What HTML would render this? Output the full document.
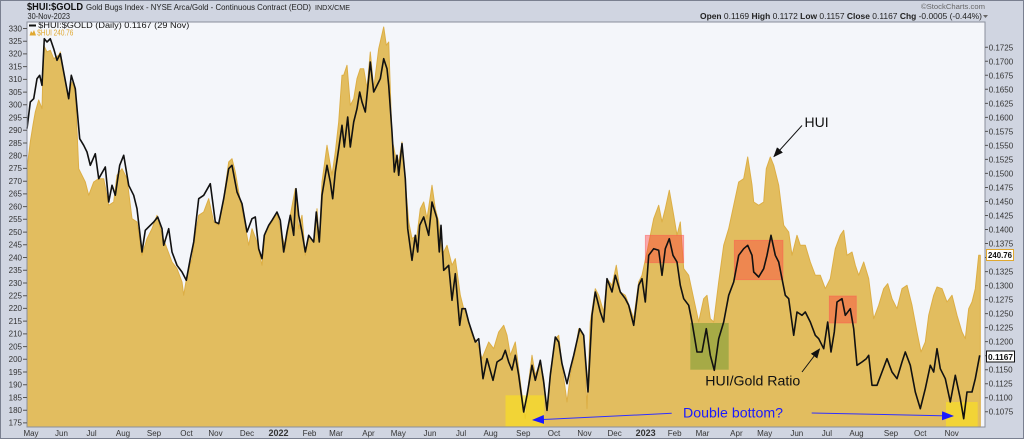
<!DOCTYPE html>
<html><head><meta charset="utf-8"><style>
html,body{margin:0;padding:0;background:#d0d5e1;}
svg{display:block;font-family:"Liberation Sans",Arial,sans-serif;}
</style></head><body>
<svg width="1024" height="439" viewBox="0 0 1024 439" xmlns="http://www.w3.org/2000/svg">
<defs>
<marker id="ab" markerWidth="10" markerHeight="8" refX="9" refY="4" orient="auto" markerUnits="userSpaceOnUse"><path d="M0,0 L10,4 L0,8 Z" fill="#111"/></marker>
<marker id="abl" markerWidth="12" markerHeight="9" refX="11" refY="4.5" orient="auto" markerUnits="userSpaceOnUse"><path d="M0,0 L12,4.5 L0,9 Z" fill="#1a1aff"/></marker>
</defs>
<rect x="0" y="0" width="1024" height="439" fill="#d0d5e1"/>
<rect x="0.5" y="0.5" width="1023" height="438" fill="none" stroke="#7a8090"/>
<!-- header -->
<text x="27" y="10" font-size="10" font-weight="bold" fill="#111" textLength="56" lengthAdjust="spacingAndGlyphs">$HUI:$GOLD</text>
<text x="86" y="10" font-size="8" fill="#222" textLength="225" lengthAdjust="spacingAndGlyphs">Gold Bugs Index - NYSE Arca/Gold - Continuous Contract (EOD)</text>
<text x="315" y="10" font-size="7.5" fill="#222" textLength="35" lengthAdjust="spacingAndGlyphs">INDX/CME</text>
<text x="27.5" y="19" font-size="8" fill="#222" textLength="42.5" lengthAdjust="spacingAndGlyphs">30-Nov-2023</text>
<text x="921" y="9" font-size="7" fill="#666" textLength="64" lengthAdjust="spacingAndGlyphs">©StockCharts.com</text>
<text x="700" y="19" font-size="8" fill="#222" textLength="282" lengthAdjust="spacingAndGlyphs"><tspan font-weight="bold">Open</tspan> 0.1169 <tspan font-weight="bold">High</tspan> 0.1172 <tspan font-weight="bold">Low</tspan> 0.1157 <tspan font-weight="bold">Close</tspan> 0.1167 <tspan font-weight="bold">Chg</tspan> -0.0005 (-0.44%)</text>
<path d="M983,15 L988,15 L985.5,18 Z" fill="#666"/>
<!-- plot -->
<rect x="27" y="22" width="958" height="405" fill="#f4f6fa"/>
<path fill="#e2bd5f" stroke="#dcae45" stroke-width="1" stroke-linejoin="round" d="M27,427 L27,168.7 L30.3,142 L33,125 L35.3,112 L38.7,100 L42,108.7 L43.7,45.3 L47,52 L50.3,50.3 L53.7,58.7 L58.7,55.3 L60.3,52 L63.7,72 L68.7,98.7 L72,82 L75.3,92 L78.7,168.7 L82,175.3 L85.3,182 L88.7,195.3 L93.7,182 L98.7,178.7 L103.7,178.7 L108.7,205.3 L113.7,202 L117,175.3 L122,168.7 L127,178.7 L132,218.7 L137,222 L142,255.3 L147,238.7 L152,228.7 L157,215.3 L162,235.3 L167,248.7 L172,262 L177,268.7 L182,282 L183.7,295.3 L187,275.3 L192,258.7 L195.3,235.3 L198.7,215.3 L203.7,212 L208.7,198.7 L213.7,222 L218.7,225.3 L223.7,198.7 L228.7,162 L232,158.7 L235.3,172 L238.7,192 L243.7,218.7 L248.7,245.3 L252,228.7 L257,242 L262,265.3 L265.3,232 L272,222 L277,213.7 L282,235 L285.3,248.7 L290.3,215.3 L295.3,188.7 L298.7,228.7 L302,215.3 L305.3,255.3 L308.7,235.3 L313.7,242 L317,208.7 L319.3,242 L322,182 L327,145.3 L332,175.3 L335.3,152 L338.7,122 L342,75.3 L343.7,75.3 L347,65.3 L350.3,105.3 L353.7,98.7 L357,78.7 L360.3,68.7 L363.7,68.7 L367,88.7 L370.3,52 L373.7,88.7 L378.7,48.7 L383.7,27 L386.3,45.3 L388.7,42 L392,138.7 L395.3,155.3 L398.7,162 L402,142 L405.3,182 L408.7,222 L412,238.7 L417,235.3 L420.3,208.7 L423.7,202 L427,218.7 L432,185.3 L435.3,208.7 L438.7,222 L442,255.3 L447,245.3 L452,265.3 L455.3,258.7 L460.3,295.3 L463.7,308.7 L467,315.3 L472,335.3 L477,342 L482,358.7 L488.7,342 L493.7,348.7 L498.7,332 L503.7,325.3 L507,335.3 L510.3,355.3 L515.3,342 L522,395.3 L525.3,418.7 L528.7,382 L532,355.3 L535.3,375.3 L540.3,362 L543.7,378.7 L547,412 L550.3,372 L555.3,338.7 L558.7,335.3 L562,365.3 L567,402 L570.3,375.3 L575.3,352 L578.7,328.7 L583.7,335.3 L587,408.7 L590.3,322 L595.3,288.7 L598.7,295.3 L603.7,312 L607,278.7 L612,285.3 L616.3,265.3 L620.3,292 L625.3,295.3 L630.3,308.7 L633.7,318.7 L638.7,282 L642,275.3 L647,252 L653.7,218.7 L658.7,205.3 L662,222 L665.3,208.7 L669.3,190.3 L673.7,215.3 L677,235.3 L680.3,222 L683.7,268.7 L688.7,275.3 L693.7,298.7 L698.7,322 L703.7,298.7 L707,295.3 L710.3,318.7 L713.7,322 L718.7,282 L723.7,245.3 L728.7,228.7 L733.7,205.3 L738.7,182 L743.7,178.7 L747.7,157 L752,185 L753.7,202 L758.7,205.3 L763.7,202 L766.3,168.7 L770.3,157 L773.7,165.3 L778.7,185.3 L783.7,225.3 L788.7,232 L792,255.3 L797,235.3 L800.3,245.3 L805.3,245.3 L810.3,262 L815.3,275.3 L820.3,275.3 L825.3,288.7 L830.3,278.7 L835.3,248.7 L840.3,235.3 L843.7,230.3 L847,255.3 L852,252 L855.3,265.3 L858.7,275.3 L863.7,262 L868.7,278.7 L873.7,318.7 L878.7,305.3 L883.7,288.7 L887.7,283.7 L892,298.7 L897,308.7 L902,288.7 L907,285.3 L912,305.3 L917,332 L921,352 L925.3,342 L928.7,315.3 L933.7,295.3 L937,287 L942,288.7 L947,302 L952,295.3 L957,315.3 L962,332 L965.3,338.7 L968.7,308.7 L972,302 L975.3,288.7 L978.7,255.3 L980.3,255.3 L980.3,427 Z"/>
<!-- annotation boxes -->
<rect x="645.3" y="235.3" width="38.4" height="27.4" fill="rgba(255,60,60,0.42)" stroke="rgba(255,80,80,0.5)" stroke-width="0.8"/>
<rect x="734.3" y="240.3" width="48.7" height="39.4" fill="rgba(255,60,60,0.42)" stroke="rgba(255,80,80,0.5)" stroke-width="0.8"/>
<rect x="829.3" y="296" width="27" height="27" fill="rgba(255,60,60,0.42)" stroke="rgba(255,80,80,0.5)" stroke-width="0.8"/>
<rect x="690.3" y="323" width="38.4" height="46.7" fill="rgba(40,130,20,0.32)"/>
<rect x="505.5" y="395.3" width="38.8" height="31" fill="rgba(255,232,20,0.55)"/>
<rect x="946" y="402" width="31.7" height="24.5" fill="rgba(255,232,20,0.55)"/>
<!-- ratio line -->
<polyline fill="none" stroke="#111" stroke-width="1.6" stroke-linejoin="round" points="27,128.7 30.3,102 33.7,98.7 37,78.7 39.7,75.3 42,85.3 44.3,38.7 47,42 50.3,38.7 53.7,48.7 57,60.3 60.3,53.7 63.7,72 68.7,98.7 71.3,75.3 75.3,88.7 79.7,138.7 83.7,145.3 87,152 90.3,165.3 95.3,153.7 98.7,178.7 105.3,167 108.7,202 112,185.3 115.3,195.3 119.7,165.3 123.7,155.3 128.7,185.3 133.7,195.3 137,208.7 142,252 145.3,230.3 150.3,225.3 153.7,222 157.7,217 162,228.7 163.7,245.3 168.7,228.7 172,252 177,265.3 182,272 186.3,280.3 190.3,258.7 193.7,242 198.7,198.7 203.7,195.3 210.3,183.7 215.3,222 218.7,223.7 223.7,198.7 228.7,168.7 232,165.3 237,192 242,203.7 247,232 252,218.7 255.3,217 258.7,248.7 262,258.7 264.3,235.3 268.7,225.3 272,220.3 277,212 280.3,220.3 283.7,252 287,232 290.3,215.3 293.7,235.3 296,188.7 298.7,215.3 302,232 305.3,252 308.7,235.3 313.7,242 316.3,212 319.3,242 322,195.3 327,165.3 330.3,182 332.7,198.7 335.3,172 338.7,148.7 342,125.3 344.3,147 347.7,117 350.3,147 353.7,122 357,108.7 359.7,92 362,102 365.3,112 370.3,62 373.7,92 378.7,82 380.3,78.7 383.7,58.7 387,68.7 388.7,85.3 392,132 394.3,172 397,155.3 398.7,175.3 402,143.7 405.3,178.7 407.7,228.7 412,260.3 415.3,235.3 417.7,252 419.7,225.3 423.7,217 428.7,235.3 432,202 437,218.7 439.3,252 441,225.3 443.7,270.3 448.7,265.3 452,300.3 455.3,273.7 459.7,325.3 462,308.7 465.3,308.7 468.7,322 472,332 475.3,342 478.7,338.7 483,378.7 487,358.7 493,380.3 497,362 502,358.7 505.3,350.3 508.7,362 512,370 515.3,355.3 518.7,375.3 523.7,412 527,395.3 532,365.3 535.3,380.3 540.3,360.3 543.7,382 547,410.3 550.3,375.3 555.3,337 558.7,342 562,363.7 567,383.7 570.3,368.7 573.7,355.3 579.7,328.7 583.7,335.3 588,392 592,315.3 595.3,292 600.3,312 603.7,322 607,278.7 612,292 615.3,275.3 620.3,292 625.3,298.7 628.7,305.3 633.7,325.3 638.7,285.3 642,278.7 645.3,302 648.7,255.3 653.7,248.7 658.7,250.3 662,275.3 665.3,248.7 669.3,238.7 673,255.3 677,262 680.3,285.3 683.7,298.7 688.7,305.3 692,322 697,352 702,352 706.3,328.7 710.3,355.3 714.3,370.3 718.7,338.7 723.7,322 728.7,295.3 733.7,282 738.7,255.3 743.7,248.7 747.7,245.3 752,255.3 753.7,272 758.7,277 763.7,268.7 767,255.3 771,235.3 775.3,255.3 778.7,262 782,278.7 785.3,295.3 788.7,298.7 793.7,335.3 797,312 802,315.3 805.3,312 810.3,322 815.3,335.3 818.7,338.7 823.7,348.7 827.7,322 831,352 834.3,332 837,302 842,298.7 845.3,315.3 850.3,308.7 853.7,328.7 857,365.3 862,362 866.3,358.7 868.7,355.3 872,385.3 877,385.3 882,372 887,358.7 892,372 897,378.7 902,362 905.3,352 910.3,365.3 915.3,392 920.3,408.7 925.3,388.7 930.3,365.3 933.7,372 937,348.7 940.3,368.7 945.3,378.7 950.3,402 955.3,375.3 960.3,398.7 963.7,418.7 967,392 972,392 975.3,378.7 979.7,355.3"/>
<!-- text annotations -->
<text x="804.5" y="127" font-size="14" fill="#111">HUI</text>
<line x1="802" y1="125.5" x2="774" y2="156.5" stroke="#111" stroke-width="1" marker-end="url(#ab)"/>
<text x="705.3" y="385.5" font-size="14" fill="#111" textLength="95" lengthAdjust="spacingAndGlyphs">HUI/Gold Ratio</text>
<line x1="802" y1="372" x2="819.5" y2="349" stroke="#111" stroke-width="1" marker-end="url(#ab)"/>
<text x="683" y="417.5" font-size="14" fill="#1a1aff" textLength="100" lengthAdjust="spacingAndGlyphs">Double bottom?</text>
<line x1="671.7" y1="413.3" x2="533" y2="420" stroke="#3030ff" stroke-width="1" marker-end="url(#abl)"/>
<line x1="811.7" y1="413" x2="953" y2="416" stroke="#3030ff" stroke-width="1" marker-end="url(#abl)"/>
<!-- legend -->
<line x1="29" y1="25.5" x2="36" y2="25.5" stroke="#111" stroke-width="2"/>
<text x="38.3" y="28" font-size="8" fill="#111" textLength="151" lengthAdjust="spacingAndGlyphs">$HUI:$GOLD (Daily) 0.1167 (29 Nov)</text>
<path d="M29.5,35.5 L31,31 L32.5,33 L34,30 L36,35.5 Z" fill="#e0a830"/>
<text x="37.3" y="35.5" font-size="8" fill="#e0a830" textLength="36" lengthAdjust="spacingAndGlyphs">$HUI 240.76</text>
<!-- plot border -->
<rect x="27" y="22" width="958" height="405" fill="none" stroke="#8a8f9c" stroke-width="1"/>
<!-- left axis -->
<g font-size="8" fill="#333" text-anchor="end">
<text x="22" y="31.3">330</text><text x="22" y="44">325</text><text x="22" y="56.7">320</text><text x="22" y="69.4">315</text><text x="22" y="82.2">310</text><text x="22" y="94.9">305</text><text x="22" y="107.6">300</text><text x="22" y="120.3">295</text><text x="22" y="133.1">290</text><text x="22" y="145.8">285</text><text x="22" y="158.5">280</text><text x="22" y="171.2">275</text><text x="22" y="184">270</text><text x="22" y="196.7">265</text><text x="22" y="209.4">260</text><text x="22" y="222.1">255</text><text x="22" y="234.9">250</text><text x="22" y="247.6">245</text><text x="22" y="260.3">240</text><text x="22" y="273">235</text><text x="22" y="285.8">230</text><text x="22" y="298.5">225</text><text x="22" y="311.2">220</text><text x="22" y="323.9">215</text><text x="22" y="336.7">210</text><text x="22" y="349.4">205</text><text x="22" y="362.1">200</text><text x="22" y="374.8">195</text><text x="22" y="387.6">190</text><text x="22" y="400.3">185</text><text x="22" y="413">180</text><text x="22" y="425.7">175</text>
</g>
<path stroke="#555" stroke-width="1" d="M23,28.5h4M23,41.2h4M23,53.9h4M23,66.6h4M23,79.4h4M23,92.1h4M23,104.8h4M23,117.5h4M23,130.3h4M23,143h4M23,155.7h4M23,168.4h4M23,181.2h4M23,193.9h4M23,206.6h4M23,219.3h4M23,232.1h4M23,244.8h4M23,257.5h4M23,270.2h4M23,283h4M23,295.7h4M23,308.4h4M23,321.1h4M23,333.9h4M23,346.6h4M23,359.3h4M23,372h4M23,384.8h4M23,397.5h4M23,410.2h4M23,422.9h4"/>
<!-- right axis -->
<g font-size="8" fill="#333">
<text x="988.7" y="50.3">0.1725</text><text x="988.7" y="64.3">0.1700</text><text x="988.7" y="78.3">0.1675</text><text x="988.7" y="92.3">0.1650</text><text x="988.7" y="106.4">0.1625</text><text x="988.7" y="120.4">0.1600</text><text x="988.7" y="134.4">0.1575</text><text x="988.7" y="148.4">0.1550</text><text x="988.7" y="162.4">0.1525</text><text x="988.7" y="176.4">0.1500</text><text x="988.7" y="190.5">0.1475</text><text x="988.7" y="204.5">0.1450</text><text x="988.7" y="218.5">0.1425</text><text x="988.7" y="232.5">0.1400</text><text x="988.7" y="246.5">0.1375</text><text x="988.7" y="260.5">0.1350</text><text x="988.7" y="274.6">0.1325</text><text x="988.7" y="288.6">0.1300</text><text x="988.7" y="302.6">0.1275</text><text x="988.7" y="316.6">0.1250</text><text x="988.7" y="330.6">0.1225</text><text x="988.7" y="344.6">0.1200</text><text x="988.7" y="358.7">0.1175</text><text x="988.7" y="372.7">0.1150</text><text x="988.7" y="386.7">0.1125</text><text x="988.7" y="400.7">0.1100</text><text x="988.7" y="414.7">0.1075</text>
</g>
<path stroke="#555" stroke-width="1" d="M985,47.3h3M985,61.3h3M985,75.3h3M985,89.3h3M985,103.4h3M985,117.4h3M985,131.4h3M985,145.4h3M985,159.4h3M985,173.4h3M985,187.5h3M985,201.5h3M985,215.5h3M985,229.5h3M985,243.5h3M985,257.5h3M985,271.6h3M985,285.6h3M985,299.6h3M985,313.6h3M985,327.6h3M985,341.6h3M985,355.7h3M985,369.7h3M985,383.7h3M985,397.7h3M985,411.7h3"/>
<rect x="986.5" y="249.5" width="27" height="11" fill="#fff" stroke="#e0a830" stroke-width="1"/>
<text x="988" y="258.2" font-size="8" font-weight="bold" fill="#111" textLength="24" lengthAdjust="spacingAndGlyphs">240.76</text>
<rect x="986.5" y="351" width="28" height="11" fill="#fff" stroke="#111" stroke-width="1"/>
<text x="988" y="359.8" font-size="8" font-weight="bold" fill="#111" textLength="25" lengthAdjust="spacingAndGlyphs">0.1167</text>
<!-- bottom axis -->
<g font-size="8" fill="#333" text-anchor="middle">
<text x="31" y="436">May</text><text x="61.5" y="436">Jun</text><text x="91.5" y="436">Jul</text><text x="123" y="436">Aug</text><text x="154" y="436">Sep</text><text x="186.5" y="436">Oct</text><text x="215.5" y="436">Nov</text><text x="247" y="436">Dec</text><text x="278.5" y="436" font-weight="bold" font-size="9">2022</text><text x="309.5" y="436">Feb</text><text x="336" y="436">Mar</text><text x="368.5" y="436">Apr</text><text x="398.3" y="436">May</text><text x="430" y="436">Jun</text><text x="461" y="436">Jul</text><text x="490.6" y="436">Aug</text><text x="523.3" y="436">Sep</text><text x="554" y="436">Oct</text><text x="584.5" y="436">Nov</text><text x="614.6" y="436">Dec</text><text x="645.6" y="436" font-weight="bold" font-size="9">2023</text><text x="674.7" y="436">Feb</text><text x="702.5" y="436">Mar</text><text x="736.4" y="436">Apr</text><text x="764.7" y="436">May</text><text x="796.8" y="436">Jun</text><text x="826.9" y="436">Jul</text><text x="856.5" y="436">Aug</text><text x="891" y="436">Sep</text><text x="920.2" y="436">Oct</text><text x="951.7" y="436">Nov</text>
</g>
</svg>
</body></html>
